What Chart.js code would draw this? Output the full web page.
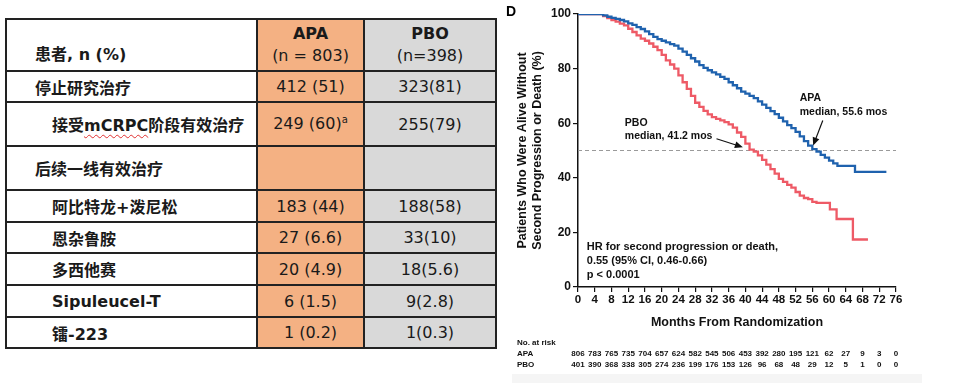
<!DOCTYPE html>
<html>
<head>
<meta charset="utf-8">
<script src="https://cdn.jsdelivr.net/npm/chart.js@4"></script>
<style>
  body { margin: 0; width: 962px; height: 383px; background: #fff; position: relative; overflow: hidden; }
  #tbl { position: absolute; left: 5px; top: 18px; border-collapse: collapse; table-layout: fixed;
         font-family: "DejaVu Sans", "Noto Sans CJK SC", sans-serif; font-size: 16px; color: #1a1a1a; }
  #tbl td { border: 2px solid #222; padding: 0; white-space: nowrap; vertical-align: middle; }
  #tbl td.lab { font-weight: bold; }
  #tbl td.apa { background: #f4b183; text-align: center; }
  #tbl td.pbo { background: #d9d9d9; text-align: center; }
  .squig { text-decoration: underline wavy #e03030; text-decoration-thickness: 1px; text-underline-offset: 3px; }
  sup { font-size: 10px; }
  #panel { position: absolute; left: 500px; top: 0; width: 462px; height: 383px; }
  #letter { position: absolute; left: 506px; top: 3px; font: bold 14px "Liberation Sans", Arial, sans-serif; }
  #band { position: absolute; left: 512px; top: 374px; width: 410px; height: 9px; background: #f5f5f5; }
</style>
</head>
<body>
<table id="tbl">
  <colgroup><col style="width:251px"><col style="width:107px"><col style="width:132px"></colgroup>
  <tbody id="tb"></tbody>
</table>
<div id="band"></div>
<div id="panel"><canvas id="km"></canvas></div>
<div id="letter">D</div>
<script>
// table content
const rowLabels = ['停止研究治疗', '接受<span class="squig">mCRPC</span>阶段有效治疗', '后续一线有效治疗',
  '阿比特龙+泼尼松', '恩杂鲁胺', '多西他赛', 'Sipuleucel-T', '镭-223'];
const rowIndent = [0, 1, 0, 1, 1, 1, 1, 1];
const apaCells = ['412 (51)', '249 (60)<sup>a</sup>', '', '183 (44)', '27 (6.6)', '20 (4.9)', '6 (1.5)', '1 (0.2)'];
const pboCells = ['323(81)', '255(79)', '', '188(58)', '33(10)', '18(5.6)', '9(2.8)', '1(0.3)'];
const rowHeights = [31, 44, 44, 32, 31, 32, 32, 31];

// KM curves (months, % without second progression or death)
const apaMonths = [0, 5, 6, 7, 8, 9, 10, 11, 12, 13, 14, 15, 16, 17, 18, 19, 20, 21, 22, 23, 24, 25, 26, 27, 28, 29, 30,
  31, 32, 33, 34, 35, 36, 37, 38, 39, 40, 41, 42, 43, 44, 45, 46, 47, 48, 49, 50, 51, 52, 53, 54, 55, 56, 57, 58, 59, 60,
  61, 62, 66.2, 73.7];
const apaSurv = [100, 100, 99.5, 99, 98.6, 98.2, 97.8, 97.3, 96.6, 96, 95.2, 94.5, 93.6, 92.6, 91.6, 90.8, 90.2, 89.6, 89,
  88.4, 87.3, 86.2, 85, 83.8, 82.6, 81.3, 80.3, 79.4, 78.6, 77.9, 77, 76.2, 75, 73.9, 72.8, 71.6, 70.8, 70, 69.2, 68,
  66.8, 65.6, 64.4, 63.3, 62, 60.7, 59.3, 58.2, 56.8, 55.2, 53.4, 51.8, 50.5, 49.6, 48.4, 47.4, 46.3, 45.3, 44.4, 42.2, 42.2];
const pboMonths = [0, 5, 6, 7, 8, 9, 10, 11, 12, 13, 14, 15, 16, 17, 18, 19, 20, 21, 22, 23, 24, 25, 26, 27, 28, 29, 30,
  31, 32, 33, 34, 35, 36, 37, 38, 39, 40, 41, 42, 43, 44, 45, 46, 47, 48, 49, 50, 51, 52, 53, 54, 55, 56, 57,
  60.2, 61.8, 65.7, 69.3];
const pboSurv = [100, 100, 99.2, 98.5, 97.8, 97.2, 96.5, 95.8, 94.6, 93.4, 92.2, 91, 90.2, 89.2, 88, 86.8, 85, 83, 81.5,
  80, 77.5, 75, 72.6, 70, 67.5, 66, 64.5, 63.2, 62.2, 61.6, 61, 60.4, 59.6, 58.4, 56.6, 55, 52.5, 50.3, 49.6, 48.2, 46.6,
  44.8, 43.2, 41.5, 39.6, 38.5, 37.4, 36.4, 34.8, 33.5, 32.6, 32.2, 31.2, 30.8, 28.4, 24.9, 17.4, 17.4];

// number at risk, every 4 months
const riskMonths = [0, 4, 8, 12, 16, 20, 24, 28, 32, 36, 40, 44, 48, 52, 56, 60, 64, 68, 72, 76];
const riskApa = [806, 783, 765, 735, 704, 657, 624, 582, 545, 506, 453, 392, 280, 195, 121, 62, 27, 9, 3, 0];
const riskPbo = [401, 390, 368, 338, 305, 274, 236, 199, 176, 153, 126, 96, 68, 48, 29, 12, 5, 1, 0, 0];

// build table
const tb = document.getElementById('tb');
let html = '<tr style="height:52px"><td class="lab" style="vertical-align:bottom;padding:0 0 5px 28px">患者, n (%)</td>' +
  '<td class="apa" style="line-height:22px"><b>APA</b><br>(n = 803)</td>' +
  '<td class="pbo" style="line-height:22px"><b>PBO</b><br>(n=398)</td></tr>';
rowLabels.forEach((lab, i) => {
  html += '<tr style="height:' + rowHeights[i] + 'px"><td class="lab" style="padding-left:' + (rowIndent[i] ? 45 : 28) + 'px">' +
    lab + '</td><td class="apa">' + apaCells[i] + '</td><td class="pbo">' + pboCells[i] + '</td></tr>';
});
tb.innerHTML = html;

const FONT = "'Liberation Sans', Arial, sans-serif";

function arrow(ctx, x1, y1, x2, y2) {
  const a = Math.atan2(y2 - y1, x2 - x1), L = 8, W = 3.5;
  ctx.beginPath(); ctx.moveTo(x1, y1); ctx.lineTo(x2 - Math.cos(a) * 4, y2 - Math.sin(a) * 4); ctx.stroke();
  ctx.beginPath();
  ctx.moveTo(x2, y2);
  ctx.lineTo(x2 - L * Math.cos(a) + W * Math.sin(a), y2 - L * Math.sin(a) - W * Math.cos(a));
  ctx.lineTo(x2 - L * Math.cos(a) - W * Math.sin(a), y2 - L * Math.sin(a) + W * Math.cos(a));
  ctx.closePath(); ctx.fill();
}

const medianLine = {
  id: 'medianLine',
  beforeDatasetsDraw(chart) {
    const { ctx, scales: { x, y } } = chart;
    ctx.save();
    ctx.strokeStyle = '#9a9a9a'; ctx.lineWidth = 1.2; ctx.setLineDash([4, 3]);
    ctx.beginPath(); ctx.moveTo(x.getPixelForValue(0), y.getPixelForValue(50));
    ctx.lineTo(x.getPixelForValue(76), y.getPixelForValue(50)); ctx.stroke();
    ctx.restore();
  }
};

const notes = {
  id: 'notes',
  afterDraw(chart) {
    const { ctx, scales: { x, y } } = chart;
    const px = v => x.getPixelForValue(v), py = v => y.getPixelForValue(v);
    ctx.save();
    ctx.fillStyle = '#111'; ctx.strokeStyle = '#111'; ctx.lineWidth = 1.2;
    ctx.textBaseline = 'middle'; ctx.textAlign = 'left';
    ctx.font = 'bold 10.5px ' + FONT;
    ctx.fillText('APA', px(53), py(69.1));
    ctx.fillText('median, 55.6 mos', px(53), py(63.9));
    ctx.fillText('PBO', px(11.2), py(59.9));
    ctx.fillText('median, 41.2 mos', px(11.2), py(55.1));
    arrow(ctx, px(58.5), py(61), px(56.2), py(51.8));
    arrow(ctx, px(33.1), py(54.3), px(39.4), py(51.2));
    ctx.font = 'bold 11px ' + FONT;
    ctx.fillText('HR for second progression or death,', px(2.1), py(14.8));
    ctx.fillText('0.55 (95% CI, 0.46-0.66)', px(2.1), py(9.6));
    ctx.fillText('p < 0.0001', px(2.1), py(4.5));
    // number at risk
    ctx.font = 'bold 8px ' + FONT;
    ctx.fillText('No. at risk', 17, 343);
    ctx.fillText('APA', 17, 354);
    ctx.fillText('PBO', 17, 365);
    ctx.textAlign = 'center';
    riskMonths.forEach((m, i) => {
      ctx.fillText(String(riskApa[i]), px(m), 354);
      ctx.fillText(String(riskPbo[i]), px(m), 365);
    });
    ctx.restore();
  }
};

new Chart(document.getElementById('km'), {
  type: 'line',
  data: {
    datasets: [
      {
        label: 'APA',
        data: apaMonths.map((m, i) => ({ x: m, y: apaSurv[i] })),
        borderColor: '#1f62ae', borderWidth: 2.3, stepped: true, pointRadius: 0, fill: false
      },
      {
        label: 'PBO',
        data: pboMonths.map((m, i) => ({ x: m, y: pboSurv[i] })),
        borderColor: '#ee5a66', borderWidth: 2.3, stepped: true, pointRadius: 0, fill: false
      }
    ]
  },
  options: {
    responsive: true,
    maintainAspectRatio: false,
    animation: false,
    layout: { padding: { top: 14, right: 66, left: 0, bottom: 0 } },
    plugins: { legend: { display: false }, tooltip: { enabled: false } },
    scales: {
      x: {
        type: 'linear', min: 0, max: 76,
        afterFit(s) { s.height = 96; },
        ticks: { stepSize: 4, autoSkip: false, maxRotation: 0, minRotation: 0, color: '#111', padding: 1,
                 font: { family: FONT, size: 11.5, weight: 'bold' } },
        grid: { drawOnChartArea: false, drawTicks: true, tickLength: 5, color: '#111', lineWidth: 1.2 },
        border: { color: '#111', width: 1.5 },
        title: { display: true, text: 'Months From Randomization', color: '#111',
                 font: { family: FONT, size: 12.5, weight: 'bold' }, padding: { top: 0, bottom: 52.5 } }
      },
      y: {
        min: 0, max: 100,
        afterFit(s) { s.width = 78; },
        ticks: { stepSize: 20, color: '#111', padding: 2, font: { family: FONT, size: 12, weight: 'bold' } },
        grid: { drawOnChartArea: false, drawTicks: true, tickLength: 5, color: '#111', lineWidth: 1.2 },
        border: { color: '#111', width: 1.5 },
        title: { display: true, text: ['Patients Who Were Alive Without', 'Second Progression or Death (%)'], color: '#111',
                 font: { family: FONT, size: 12.5, weight: 'bold' }, padding: { top: 15.5, bottom: 0 } }
      }
    }
  },
  plugins: [medianLine, notes]
});
</script>
</body>
</html>
